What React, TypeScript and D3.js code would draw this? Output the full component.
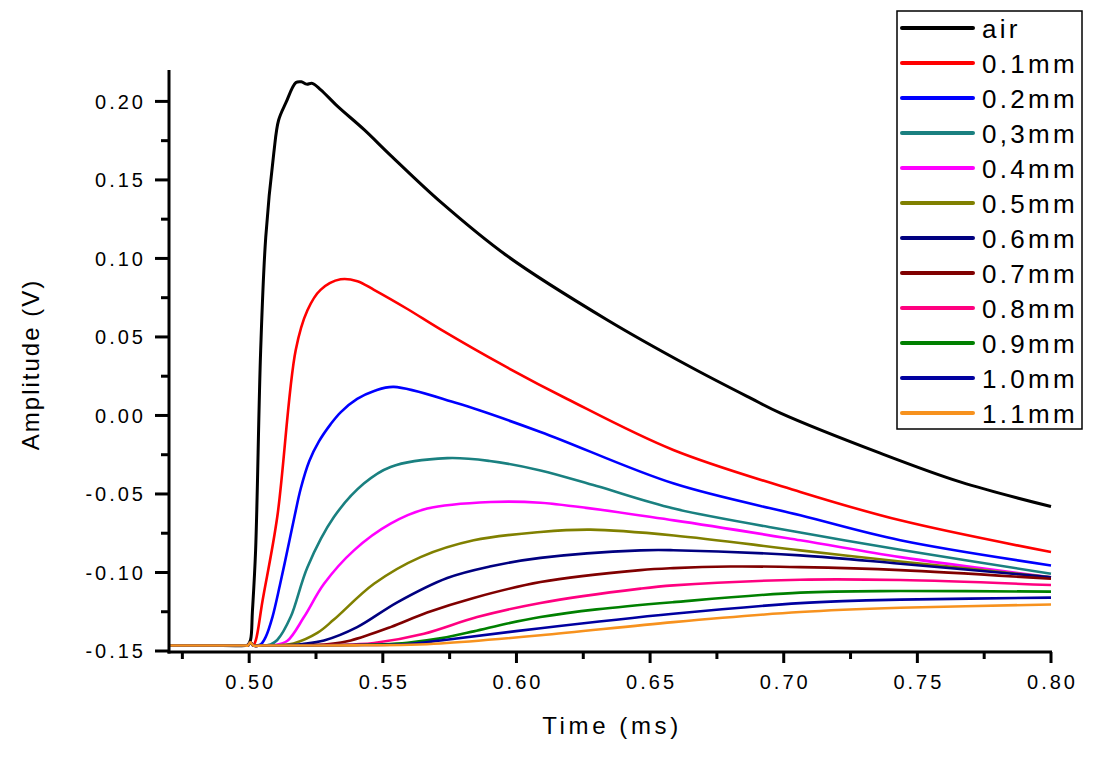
import React from "react";
import * as d3 from "d3";

type Pt = [number, number];

const seriesNames = ["air", "0.1mm", "0.2mm", "0,3mm", "0.4mm", "0.5mm", "0.6mm", "0.7mm", "0.8mm", "0.9mm", "1.0mm", "1.1mm"];
const seriesColors = ["#000000", "#ff0000", "#0000ff", "#1a8080", "#ff00ff", "#808000", "#000080", "#800000", "#ff0080", "#008000", "#0000a0", "#f7921e"];

const airData: Pt[] = [[0.47, -0.1465], [0.485, -0.1465], [0.4985, -0.1465], [0.4995, -0.1462], [0.5005, -0.143], [0.5012, -0.125], [0.5024, -0.086], [0.5043, 0.0416], [0.5062, 0.1136], [0.5092, 0.167], [0.511, 0.188], [0.5137, 0.199], [0.5175, 0.212], [0.5195, 0.2125], [0.5215, 0.211], [0.5236, 0.2115], [0.5268, 0.2074], [0.533, 0.197], [0.543, 0.182], [0.553, 0.1655], [0.5716, 0.136], [0.5966, 0.1015], [0.634, 0.0608], [0.665, 0.031], [0.6876, 0.011], [0.6988, 0.0015], [0.7361, -0.024], [0.766, -0.0423], [0.8, -0.058]];
const d01: Pt[] = [[0.47, -0.1465], [0.485, -0.1465], [0.4985, -0.1465], [0.4995, -0.1465], [0.5005, -0.1445], [0.5015, -0.1465], [0.5025, -0.143], [0.505, -0.118], [0.5105, -0.0647], [0.5174, 0.0416], [0.5218, 0.067], [0.5267, 0.08], [0.5342, 0.0867], [0.5405, 0.0855], [0.5467, 0.08], [0.5592, 0.0678], [0.5716, 0.0548], [0.595, 0.032], [0.619, 0.0105], [0.6587, -0.022], [0.7062, -0.0487], [0.7436, -0.0668], [0.8, -0.087]];
const d02: Pt[] = [[0.47, -0.1465], [0.485, -0.1465], [0.4985, -0.1465], [0.4995, -0.1465], [0.5005, -0.1445], [0.5015, -0.1465], [0.503, -0.1465], [0.5045, -0.1455], [0.5062, -0.141], [0.5087, -0.1284], [0.5115, -0.108], [0.5143, -0.0859], [0.517, -0.064], [0.5193, -0.0465], [0.5225, -0.029], [0.5261, -0.0165], [0.5305, -0.0055], [0.5342, 0.002], [0.5404, 0.0105], [0.547, 0.0158], [0.5541, 0.0182], [0.5779, 0.0077], [0.609, -0.0105], [0.6589, -0.0434], [0.7062, -0.0636], [0.7436, -0.0795], [0.8, -0.0955]];
const d03: Pt[] = [[0.47, -0.1465], [0.485, -0.1465], [0.4985, -0.1465], [0.4995, -0.1465], [0.5005, -0.1445], [0.5015, -0.1465], [0.504, -0.1465], [0.508, -0.1458], [0.5105, -0.143], [0.5155, -0.1284], [0.5218, -0.0966], [0.5317, -0.0647], [0.5429, -0.0434], [0.5529, -0.0328], [0.5741, -0.0272], [0.59, -0.029], [0.609, -0.035], [0.63, -0.045], [0.6589, -0.0593], [0.7062, -0.0745], [0.7436, -0.0855], [0.8, -0.1008]];
const d04: Pt[] = [[0.47, -0.1465], [0.485, -0.1465], [0.4985, -0.1465], [0.4995, -0.1465], [0.5005, -0.1445], [0.5015, -0.1465], [0.504, -0.1465], [0.51, -0.1462], [0.5143, -0.1435], [0.5205, -0.1284], [0.528, -0.1072], [0.5392, -0.0859], [0.5529, -0.0689], [0.5666, -0.0593], [0.5903, -0.0551], [0.609, -0.0556], [0.6589, -0.0668], [0.7062, -0.0795], [0.7436, -0.0902], [0.8, -0.103]];
const d05: Pt[] = [[0.47, -0.1465], [0.485, -0.1465], [0.4985, -0.1465], [0.4995, -0.1465], [0.5005, -0.1445], [0.5015, -0.1465], [0.504, -0.1465], [0.512, -0.1462], [0.5166, -0.1452], [0.5255, -0.1385], [0.5317, -0.13], [0.5467, -0.1072], [0.5641, -0.0902], [0.584, -0.0795], [0.609, -0.0742], [0.6277, -0.0727], [0.6589, -0.0764], [0.7062, -0.0859], [0.7436, -0.093], [0.8, -0.103]];
const d06: Pt[] = [[0.47, -0.1465], [0.485, -0.1465], [0.4985, -0.1465], [0.4995, -0.1465], [0.5005, -0.1445], [0.5015, -0.1465], [0.505, -0.1465], [0.515, -0.1462], [0.52, -0.1455], [0.528, -0.1433], [0.5404, -0.1348], [0.5554, -0.119], [0.5741, -0.1035], [0.59, -0.0962], [0.609, -0.0907], [0.6464, -0.0859], [0.6587, -0.0858], [0.7062, -0.0891], [0.7436, -0.0944], [0.8, -0.103]];
const d07: Pt[] = [[0.47, -0.1465], [0.485, -0.1465], [0.4985, -0.1465], [0.4995, -0.1465], [0.5005, -0.1445], [0.5015, -0.1465], [0.505, -0.1465], [0.518, -0.1464], [0.53, -0.1455], [0.538, -0.1433], [0.5529, -0.1348], [0.5666, -0.1255], [0.584, -0.1162], [0.609, -0.1061], [0.6464, -0.0985], [0.6587, -0.0972], [0.68, -0.0962], [0.7062, -0.0966], [0.7436, -0.0985], [0.8, -0.104]];
const d08: Pt[] = [[0.47, -0.1465], [0.485, -0.1465], [0.4985, -0.1465], [0.4995, -0.1465], [0.5005, -0.1445], [0.5015, -0.1465], [0.505, -0.1465], [0.525, -0.1463], [0.54, -0.1457], [0.5467, -0.1449], [0.5654, -0.139], [0.5853, -0.1284], [0.609, -0.1194], [0.6464, -0.1103], [0.6587, -0.1082], [0.7062, -0.1046], [0.7436, -0.1048], [0.8, -0.108]];
const d09: Pt[] = [[0.47, -0.1465], [0.485, -0.1465], [0.4985, -0.1465], [0.4995, -0.1465], [0.5005, -0.1445], [0.5015, -0.1465], [0.505, -0.1465], [0.53, -0.1463], [0.55, -0.1457], [0.5592, -0.1447], [0.572, -0.1418], [0.584, -0.1375], [0.5966, -0.1325], [0.609, -0.1284], [0.63, -0.1235], [0.6587, -0.1189], [0.7062, -0.1128], [0.7436, -0.1118], [0.8, -0.1122]];
const d10: Pt[] = [[0.47, -0.1465], [0.485, -0.1465], [0.4985, -0.1465], [0.4995, -0.1465], [0.5005, -0.1445], [0.5015, -0.1465], [0.505, -0.1465], [0.535, -0.1463], [0.56, -0.1455], [0.5716, -0.1433], [0.609, -0.1355], [0.6587, -0.1263], [0.7062, -0.1195], [0.725, -0.1181], [0.7436, -0.1173], [0.8, -0.116]];
const d11: Pt[] = [[0.47, -0.1465], [0.485, -0.1465], [0.4985, -0.1465], [0.4995, -0.1465], [0.5005, -0.1445], [0.5015, -0.1465], [0.505, -0.1465], [0.54, -0.1464], [0.56, -0.146], [0.5716, -0.1452], [0.609, -0.14], [0.6587, -0.1316], [0.7062, -0.1252], [0.7436, -0.1225], [0.8, -0.1204]];

const seriesData: Pt[][] = [airData, d01, d02, d03, d04, d05, d06, d07, d08, d09, d10, d11];

const xTicks = [0.5, 0.55, 0.6, 0.65, 0.7, 0.75, 0.8];
const xMinor = [0.475, 0.525, 0.575, 0.625, 0.675, 0.725, 0.775];
const yTicks = [-0.15, -0.1, -0.05, 0, 0.05, 0.1, 0.15, 0.2];
const yMinor = [-0.125, -0.075, -0.025, 0.025, 0.075, 0.125, 0.175];

const W = 1096;
const H = 757;
const L = 169;
const R = 1051;
const T = 70;
const B = 651;
const FONT = "'Liberation Sans', Arial, Helvetica, sans-serif";

export default function App() {
  const x = d3.scaleLinear().domain([0.47, 0.8]).range([L, R]);
  const y = d3.scaleLinear().domain([-0.15, 0.22]).range([B, T]);
  const line = d3
    .line<Pt>()
    .x((d) => x(d[0]))
    .y((d) => y(d[1]))
    .curve(d3.curveCatmullRom.alpha(0.5));

  const axisY = 652;
  const legX = 897;
  const legY = 11;
  const rowH = 35;

  return (
    <svg width={W} height={H} style={{ position: "absolute", left: 0, top: 0, background: "#fff" }} fontFamily={FONT}>
      <rect x={0} y={0} width={W} height={H} fill="#fff" />
      <defs>
        <clipPath id="plotclip">
          <rect x={L} y={T - 10} width={R - L + 2} height={B - T + 12} />
        </clipPath>
      </defs>
      <g clipPath="url(#plotclip)">
        {seriesData.map((d, i) => (
          <path key={i} d={line(d) || ""} fill="none" stroke={seriesColors[i]} strokeWidth={i === 0 ? 3 : 2.6} strokeLinejoin="round" />
        ))}
      </g>

      <line x1={L} x2={L} y1={T} y2={axisY + 1.5} stroke="#000" strokeWidth={3} />
      <line x1={L - 1.5} x2={R + 1} y1={axisY} y2={axisY} stroke="#000" strokeWidth={3} />
      {yTicks.map((t) => (
        <g key={"yt" + t}>
          <line x1={L - 14} x2={L} y1={y(t)} y2={y(t)} stroke="#000" strokeWidth={3} />
          <text x={146} y={y(t)} dy="0.36em" textAnchor="end" fontSize={20} letterSpacing={3} fill="#000">
            {t.toFixed(2)}
          </text>
        </g>
      ))}
      {yMinor.map((t) => (
        <line key={"ym" + t} x1={L - 8} x2={L} y1={y(t)} y2={y(t)} stroke="#000" strokeWidth={3} />
      ))}
      {xTicks.map((t) => (
        <g key={"xt" + t}>
          <line x1={x(t)} x2={x(t)} y1={axisY} y2={axisY + 11} stroke="#000" strokeWidth={3} />
          <text x={x(t) + 1.5} y={689} textAnchor="middle" fontSize={20} letterSpacing={3} fill="#000">
            {t.toFixed(2)}
          </text>
        </g>
      ))}
      {xMinor.map((t) => (
        <line key={"xm" + t} x1={x(t)} x2={x(t)} y1={axisY} y2={axisY + 7} stroke="#000" strokeWidth={3} />
      ))}

      <text x={(L + R) / 2 + 2} y={734} textAnchor="middle" fontSize={24} letterSpacing={3.6} fill="#000">
        Time (ms)
      </text>
      <text
        transform={`translate(39, ${(T + B) / 2 + 4}) rotate(-90)`}
        textAnchor="middle"
        fontSize={24}
        letterSpacing={2}
        fill="#000"
      >
        Amplitude (V)
      </text>

      <rect x={legX} y={legY} width={185} height={418} fill="#fff" stroke="#000" strokeWidth={1.5} />
      {seriesNames.map((n, i) => {
        const cy = 28 + i * rowH;
        return (
          <g key={n}>
            <line x1={902} x2={973} y1={cy} y2={cy} stroke={seriesColors[i]} strokeWidth={4} strokeLinecap="round" />
            <text x={982} y={cy + 10} fontSize={26} letterSpacing={3.3} fill="#000">
              {n}
            </text>
          </g>
        );
      })}
    </svg>
  );
}
